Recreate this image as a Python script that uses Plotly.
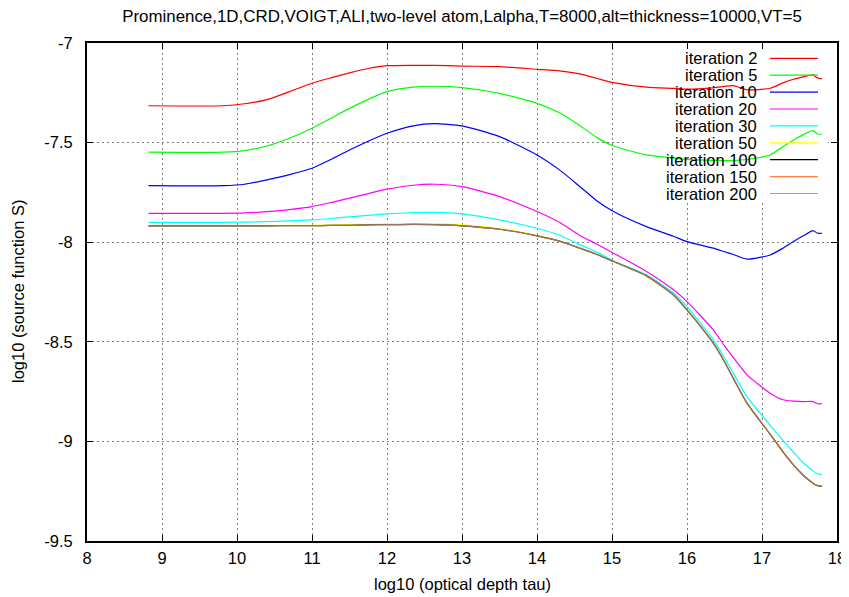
import plotly.graph_objects as go

# ---------------- data ----------------
log_tau = [8.82, 9.82, 10.1, 10.4, 10.7, 11.0, 11.25, 11.5, 11.75, 12.0, 12.35, 12.63, 13.0, 13.5,
           14.0, 14.3, 14.57, 14.8, 15.02, 15.46, 15.82, 16.0, 16.35, 16.5, 16.62, 16.8, 17.11,
           17.28, 17.42, 17.55, 17.68, 17.74, 17.8]

iter_2 = [-7.315, -7.315, -7.305, -7.284, -7.244, -7.202, -7.175, -7.150, -7.128, -7.114, -7.112,
          -7.112, -7.116, -7.119, -7.132, -7.140, -7.155, -7.178, -7.199, -7.222, -7.228, -7.232,
          -7.225, -7.218, -7.214, -7.235, -7.227, -7.200, -7.182, -7.170, -7.160, -7.176, -7.180]
iter_5 = [-7.548, -7.548, -7.540, -7.517, -7.478, -7.428, -7.378, -7.328, -7.283, -7.244, -7.222,
          -7.217, -7.224, -7.253, -7.303, -7.350, -7.414, -7.475, -7.517, -7.562, -7.578, -7.584,
          -7.589, -7.590, -7.590, -7.585, -7.562, -7.520, -7.487, -7.460, -7.440, -7.457, -7.458]
iter_10 = [-7.716, -7.716, -7.709, -7.687, -7.661, -7.629, -7.585, -7.537, -7.493, -7.453, -7.416,
           -7.405, -7.416, -7.470, -7.562, -7.637, -7.720, -7.793, -7.846, -7.922, -7.970, -7.997,
           -8.030, -8.048, -8.062, -8.085, -8.064, -8.030, -7.997, -7.968, -7.942, -7.955, -7.955]
iter_20 = [-7.855, -7.855, -7.853, -7.847, -7.836, -7.821, -7.801, -7.779, -7.756, -7.734, -7.714,
           -7.709, -7.721, -7.771, -7.846, -7.900, -7.966, -8.010, -8.055, -8.147, -8.239, -8.298,
           -8.440, -8.520, -8.580, -8.666, -8.758, -8.791, -8.798, -8.800, -8.800, -8.811, -8.810]
iter_30 = [-7.900, -7.900, -7.899, -7.897, -7.893, -7.888, -7.881, -7.873, -7.865, -7.858, -7.852,
           -7.850, -7.858, -7.888, -7.930, -7.965, -8.012, -8.050, -8.094, -8.164, -8.255, -8.323,
           -8.490, -8.580, -8.660, -8.775, -8.920, -8.995, -9.055, -9.107, -9.148, -9.162, -9.168]
iter_50 = [-7.918, -7.918, -7.918, -7.917, -7.916, -7.915, -7.914, -7.912, -7.910, -7.908, -7.907,
           -7.907, -7.913, -7.932, -7.966, -7.994, -8.029, -8.062, -8.097, -8.169, -8.265, -8.340,
           -8.507, -8.600, -8.685, -8.808, -8.965, -9.052, -9.118, -9.170, -9.210, -9.222, -9.226]
iter_100 = [-7.918, -7.918, -7.918, -7.918, -7.917, -7.917, -7.916, -7.915, -7.913, -7.912, -7.911,
            -7.912, -7.918, -7.935, -7.968, -7.995, -8.030, -8.062, -8.097, -8.169, -8.265, -8.340,
            -8.507, -8.600, -8.685, -8.808, -8.965, -9.052, -9.118, -9.170, -9.210, -9.222, -9.226]
iter_150 = list(iter_100)
iter_200 = list(iter_100)

series_names = ["iteration 2", "iteration 5", "iteration 10", "iteration 20", "iteration 30",
                "iteration 50", "iteration 100", "iteration 150", "iteration 200"]
series_values = [iter_2, iter_5, iter_10, iter_20, iter_30, iter_50, iter_100, iter_150, iter_200]
series_colors = ["#ff0000", "#00ff00", "#0000ff", "#ff00ff", "#00ffff",
                 "#ffff00", "#000000", "#ff8040", "#a0a0a0"]
series_opacity = [1, 1, 1, 1, 1, 1, 1, 0.6, 0.45]

x_ticks = [8, 9, 10, 11, 12, 13, 14, 15, 16, 17, 18]
y_ticks = [-9.5, -9, -8.5, -8, -7.5, -7]
y_tick_labels = ["-9.5", "-9", "-8.5", "-8", "-7.5", "-7"]

title_text = "Prominence,1D,CRD,VOIGT,ALI,two-level atom,Lalpha,T=8000,alt=thickness=10000,VT=5"

# ---------------- figure ----------------
FONT = "Liberation Sans, Arial, sans-serif"
FS = 16.5
W, H = 849, 597
OFF = 8                      # page body margin
L, T = 79, 35
PW, PH = 750, 498
R, B = W - L - PW, H - T - PH
SX0, SY1 = L + OFF, T + OFF + PH   # plot left / bottom in screen px


def px_to_paper_x(px):
    return (px - SX0) / PW


def py_to_paper_y(py):
    return (SY1 - py) / PH


fig = go.Figure()
for name, vals, col, op in zip(series_names, series_values, series_colors, series_opacity):
    fig.add_trace(go.Scatter(x=log_tau, y=vals, mode="lines", name=name, opacity=op,
                             line=dict(color=col, width=1.2, shape="spline", smoothing=0.6),
                             showlegend=False, hoverinfo="skip"))

# white area behind the key (hides grid, not curves)
fig.add_shape(type="rect", xref="x", yref="y", x0=15.2, x1=17.88, y0=-7.80, y1=-7.03,
              fillcolor="white", line=dict(width=0), layer="between")

# key: right aligned text with sample line on its right
for i, (name, col) in enumerate(zip(series_names, series_colors)):
    yp = py_to_paper_y(58.3 + 16.9 * i)
    fig.add_annotation(x=px_to_paper_x(759), y=yp, xref="paper", yref="paper", text=name,
                       showarrow=False, xanchor="right", yanchor="middle",
                       font=dict(family=FONT, size=FS, color="black"))
    fig.add_shape(type="line", xref="paper", yref="paper",
                  x0=px_to_paper_x(770), x1=px_to_paper_x(818),
                  y0=yp, y1=yp, line=dict(color=col, width=1.2))

# axis titles
fig.add_annotation(x=0.5, y=py_to_paper_y(584), xref="paper", yref="paper",
                   text="log10 (optical depth tau)", showarrow=False, yanchor="middle",
                   font=dict(family=FONT, size=FS, color="black"))
fig.add_annotation(x=px_to_paper_x(18), y=0.5, xref="paper", yref="paper",
                   text="log10 (source function S)", showarrow=False, textangle=-90,
                   xanchor="center", yanchor="middle",
                   font=dict(family=FONT, size=FS, color="black"))

axis_common = dict(showline=True, linecolor="black", linewidth=2, mirror="ticks",
                   ticks="inside", ticklen=6, tickwidth=1, tickcolor="black",
                   showgrid=True, gridcolor="#808080", gridwidth=1, griddash="2px,3px",
                   zeroline=False, tickfont=dict(family=FONT, size=FS, color="black"))

fig.update_xaxes(range=[8, 18], tickvals=x_ticks, ticktext=[str(v) for v in x_ticks],
                 ticklabelstandoff=1, **axis_common)
fig.update_yaxes(range=[-9.5, -7], tickvals=y_ticks, ticktext=y_tick_labels,
                 ticklabelstandoff=9, **axis_common)

fig.update_layout(
    width=W, height=H,
    margin=dict(l=L, r=R, t=T, b=B, pad=0),
    paper_bgcolor="white", plot_bgcolor="white",
    title=dict(text=title_text, x=0.5, xref="paper", y=1 - (16 - OFF) / H, yref="container",
               yanchor="middle", xanchor="center",
               font=dict(family=FONT, size=16.9, color="black")),
    showlegend=False,
)

fig.write_html("out.html")
